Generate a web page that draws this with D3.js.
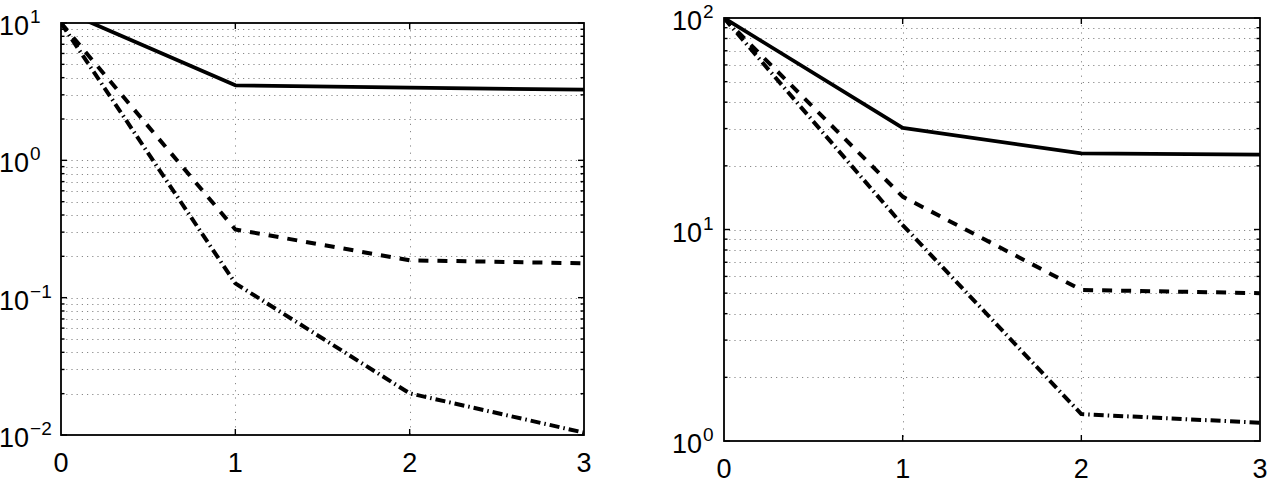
<!DOCTYPE html>
<html>
<head>
<meta charset="utf-8">
<script src="https://cdn.jsdelivr.net/npm/d3@7"></script>
<style>
  body { margin: 0; background: #fff; }
  svg { display: block; }
  text { font-family: "Liberation Sans", Arial, Helvetica, sans-serif; fill: #000; }
</style>
</head>
<body>
<svg id="chart" width="1275" height="489"></svg>
<script>
// iterations on the x axis
const iterations = [0, 1, 2, 3];
const xTicks = [0, 1, 2, 3];

// left panel
const leftSolid = [12.5, 3.52, 3.38, 3.27];
const leftDashed = [10, 0.314, 0.187, 0.178];
const leftDashDot = [10, 0.127, 0.0201, 0.0104];
const leftExponents = [-2, -1, 0, 1];

// right panel
const rightSolid = [100, 30.2, 22.9, 22.6];
const rightDashed = [100, 14.3, 5.18, 5.0];
const rightDashDot = [100, 10.5, 1.34, 1.22];
const rightExponents = [0, 1, 2];

let svg = d3.select("#chart");

let styles = {
    solid: { dash: null, width: 3.8 },
    dashed: { dash: "10,9", width: 4 },
    dashdot: { dash: "10,4,1.5,4", width: 4 }
};

function createPanel(id, box, exponents, series, labelX, xLabelY) {

    let g = svg.append("g");

    let x = d3.scaleLinear()
        .domain([0, 3])
        .range([box.left, box.right]);

    let y = d3.scaleLog()
        .domain([Math.pow(10, exponents[0]), Math.pow(10, exponents[exponents.length - 1])])
        .range([box.bottom, box.top]);

    let yTicks = y.ticks();

    // grid
    g.selectAll("line.hgrid")
        .data(yTicks.filter(function (d) { return y(d) > box.top + 0.5 && y(d) < box.bottom - 0.5; }))
        .enter().append("line")
        .attr("class", "hgrid")
        .attr("x1", box.left).attr("x2", box.right)
        .attr("y1", function (d) { return Math.round(y(d)) + 0.5; })
        .attr("y2", function (d) { return Math.round(y(d)) + 0.5; })
        .style("stroke", "#888")
        .style("stroke-width", "1px")
        .style("stroke-dasharray", "1.2,4");

    g.selectAll("line.vgrid")
        .data(xTicks.slice(1, -1))
        .enter().append("line")
        .attr("class", "vgrid")
        .attr("x1", function (d) { return Math.round(x(d)) + 0.5; })
        .attr("x2", function (d) { return Math.round(x(d)) + 0.5; })
        .attr("y1", box.top).attr("y2", box.bottom)
        .style("stroke", "#888")
        .style("stroke-width", "1px")
        .style("stroke-dasharray", "1.2,6");

    // clip so the curve stops at the frame
    svg.append("clipPath")
        .attr("id", id)
        .append("rect")
        .attr("x", box.left).attr("y", box.top)
        .attr("width", box.right - box.left)
        .attr("height", box.bottom - box.top);

    let line = d3.line()
        .x(function (d, i) { return x(iterations[i]); })
        .y(function (d) { return y(d); });

    g.selectAll("path.series")
        .data(series)
        .enter().append("path")
        .attr("class", "series")
        .attr("clip-path", "url(#" + id + ")")
        .attr("d", function (d) { return line(d.values); })
        .style("fill", "none")
        .style("stroke", "#000")
        .style("stroke-linejoin", "round")
        .style("stroke-width", function (d) { return styles[d.style].width + "px"; })
        .style("stroke-dasharray", function (d) { return styles[d.style].dash; });

    // frame
    g.append("rect")
        .attr("x", box.left).attr("y", box.top)
        .attr("width", box.right - box.left)
        .attr("height", box.bottom - box.top)
        .style("fill", "none")
        .style("stroke", "#000")
        .style("stroke-width", "1.8px");

    // inward ticks
    let xt = xTicks.slice(1, -1);
    g.selectAll("line.xtb")
        .data(xt).enter().append("line")
        .attr("x1", function (d) { return x(d); }).attr("x2", function (d) { return x(d); })
        .attr("y1", box.bottom).attr("y2", box.bottom - 6)
        .style("stroke", "#000").style("stroke-width", "1.4px");
    g.selectAll("line.xtt")
        .data(xt).enter().append("line")
        .attr("x1", function (d) { return x(d); }).attr("x2", function (d) { return x(d); })
        .attr("y1", box.top).attr("y2", box.top + 6)
        .style("stroke", "#000").style("stroke-width", "1.4px");

    [box.left, box.right].forEach(function (edge, k) {
        let dir = k === 0 ? 1 : -1;
        g.selectAll(null)
            .data(yTicks).enter().append("line")
            .attr("x1", edge)
            .attr("x2", function (d) {
                let major = Math.abs(Math.log10(d) - Math.round(Math.log10(d))) < 1e-9;
                return edge + dir * (major ? 6 : 3.5);
            })
            .attr("y1", function (d) { return y(d); })
            .attr("y2", function (d) { return y(d); })
            .style("stroke", "#000").style("stroke-width", "1.4px");
    });

    // x labels
    g.selectAll("text.xl")
        .data(xTicks).enter().append("text")
        .attr("x", function (d) { return x(d); })
        .attr("y", xLabelY)
        .style("text-anchor", "middle")
        .style("font-size", "27px")
        .text(function (d) { return d; });

    // y labels 10^k
    let yl = g.selectAll("text.yl")
        .data(exponents).enter().append("text")
        .attr("x", labelX)
        .attr("y", function (d) { return y(Math.pow(10, d)) + 12; })
        .style("font-size", "27px");
    yl.append("tspan").text("10");
    yl.append("tspan")
        .attr("dy", -12)
        .attr("dx", 1)
        .style("font-size", "19px")
        .text(function (d) { return d < 0 ? "\u2212" + (-d) : d; });
}

createPanel("clipLeft", { left: 61, right: 584, top: 23, bottom: 435 }, leftExponents, [
    { style: "solid", values: leftSolid },
    { style: "dashed", values: leftDashed },
    { style: "dashdot", values: leftDashDot }
], -1, 472);

createPanel("clipRight", { left: 724, right: 1260, top: 18, bottom: 441 }, rightExponents, [
    { style: "solid", values: rightSolid },
    { style: "dashed", values: rightDashed },
    { style: "dashdot", values: rightDashDot }
], 672, 478);
</script>
</body>
</html>
